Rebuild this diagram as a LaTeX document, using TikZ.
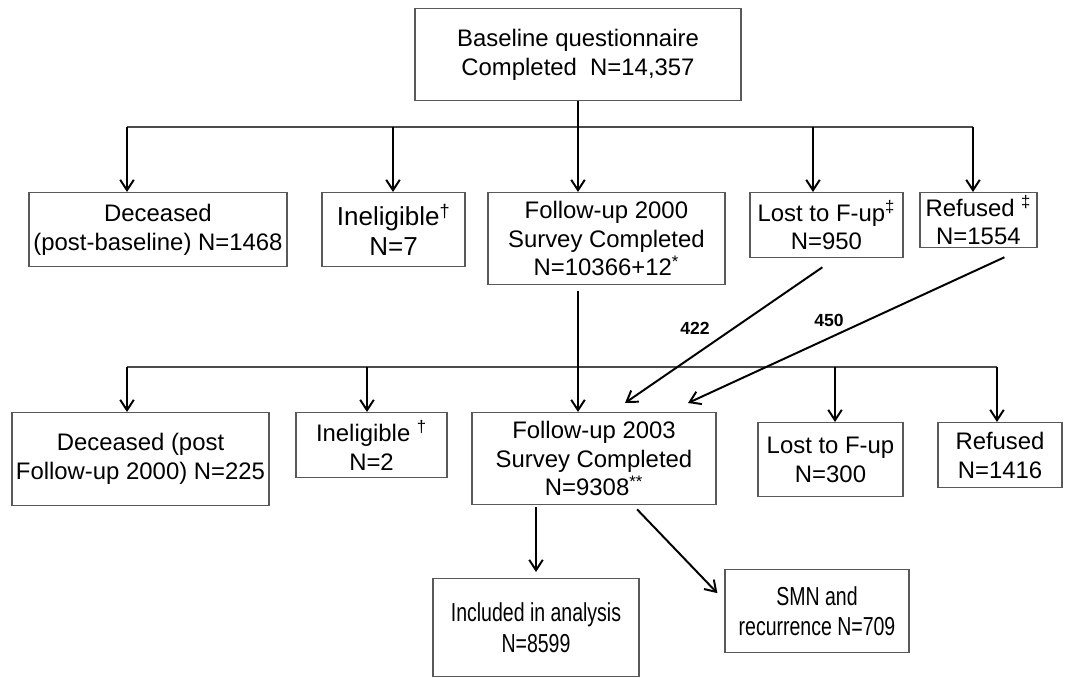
\documentclass[tikz,border=0pt]{standalone}
\usepackage{fontspec}
\setmainfont{Liberation Sans}
\newfontfamily\narrowfont[FakeStretch=0.75]{Liberation Sans}
\usetikzlibrary{arrows.meta}
\begin{document}
\begin{tikzpicture}[box/.style={draw=gray!70!black, line width=0.9pt, fill=white, anchor=north, align=center, inner sep=0pt, font=\fontsize{17}{20.5}\selectfont},narrow box/.style={box, font=\narrowfont\fontsize{18.5}{21.5}\selectfont},flow/.style={line width=1.4pt, -{Straight Barb[length=2.6mm,width=3.4mm]}},branch/.style={line width=1pt, gray!60!black},count/.style={font=\bfseries\fontsize{12.5}{15}\selectfont, inner sep=1pt}]%
  % Baseline%
\node[box, minimum width=8.15cm, minimum height=2.3cm] (base) at (14.45,-0.2) {Baseline questionnaire\\ Completed~ N=14,357};%
\coordinate (br1) at (3.175,-3.175);%
\coordinate (br2) at (9.825,-3.175);%
\coordinate (br4) at (20.325,-3.175);%
\coordinate (br5) at (24.325,-3.175);%
  % Follow-up 2000 level%
\node[box, minimum width=6.45cm, minimum height=1.85cm] (dec1) at (3.95,-4.8) {Deceased\\ (post-baseline) N=1468};%
\node[box, minimum width=3.575cm, minimum height=1.85cm, font=\fontsize{18.5}{21}\selectfont] (inel1) at (9.84,-4.8) {Ineligible\textsuperscript{†}\\ N=7};%
\node[box, minimum width=5.925cm, minimum height=2.3cm] (fu1) at (15.16,-4.8) {Follow-up 2000\\ Survey Completed\\ N=10366+12\textsuperscript{*}};%
\node[box, minimum width=3.825cm, minimum height=1.625cm] (lost1) at (20.66,-4.8) {Lost to F-up\textsuperscript{‡}\\ N=950};%
\node[box, minimum width=2.925cm, minimum height=1.375cm] (ref1) at (24.46,-4.8) {Refused \textsuperscript{‡}\\ N=1554};%
\path[branch,draw] (br1) -- (br5);%
\draw[flow] (base.south) -- (base.south |- fu1.north);%
\draw[flow] (br1) -- (br1 |- dec1.north);%
\draw[flow] (br2) -- (br2 |- inel1.north);%
\draw[flow] (br4) -- (br4 |- lost1.north);%
\draw[flow] (br5) -- (br5 |- ref1.north);%
  % Follow-up 2003 level%
\coordinate (bs1) at (3.175,-9.175);%
\coordinate (bs2) at (9.175,-9.175);%
\coordinate (bs4) at (20.875,-9.175);%
\coordinate (bs5) at (24.925,-9.175);%
\node[box, minimum width=6.425cm, minimum height=2.325cm] (dec2) at (3.5125,-10.3) {Deceased (post\\ Follow-up 2000) N=225};%
\node[box, minimum width=3.775cm, minimum height=1.625cm] (inel2) at (9.2875,-10.3) {Ineligible \textsuperscript{†}\\ N=2};%
\node[box, minimum width=6.1cm, minimum height=2.3cm] (fu2) at (14.85,-10.3) {Follow-up 2003\\ Survey Completed\\ N=9308\textsuperscript{**}};%
\node[box, minimum width=3.625cm, minimum height=1.85cm] (lost2) at (20.7625,-10.55) {Lost to F-up\\ N=300};%
\node[box, minimum width=3.1cm, minimum height=1.625cm] (ref2) at (25.0,-10.55) {Refused\\ N=1416};%
\path[branch,draw] (bs1) -- (bs5);%
\draw[flow] ([yshift=-0.15cm]fu1.south -| base.south) -- (fu2.north -| base.south);%
\draw[flow] (bs1) -- (bs1 |- dec2.north);%
\draw[flow] (bs2) -- (bs2 |- inel2.north);%
\draw[flow] (bs4) -- (bs4 |- lost2.north);%
\draw[flow] (bs5) -- (bs5 |- ref2.north);%
\draw[flow] ([shift={(-0.1,-0.225)}]lost1.south) -- ([shift={(0.775,0.225)}]fu2.north);%
\draw[flow] ([shift={(0.65,-0.225)}]ref1.south) -- ([shift={(2.35,0.225)}]fu2.north);%
\node[count] (n422) at (17.375,-8.2) {422};%
\node[count] (n450) at (20.725,-8.0) {450};%
  % Analysis%
\node[narrow box, minimum width=5.15cm, minimum height=2.45cm] (inc) at (13.4,-14.45) {Included in analysis\\ N=8599};%
\node[narrow box, minimum width=4.6cm, minimum height=2.075cm] (smn) at (20.425,-14.225) {SMN and\\ recurrence N=709};%
\draw[flow] ([yshift=-0.05cm]inc.north |- fu2.south) -- ([yshift=0.15cm]inc.north);%
\draw[flow] ([shift={(1.075,-0.1)}]fu2.south) -- ([shift={(-0.175,0.45)}]smn.west);%
\path[use as bounding box] (0,0) rectangle (26.9,-16.65);%
\end{tikzpicture}
\end{document}
